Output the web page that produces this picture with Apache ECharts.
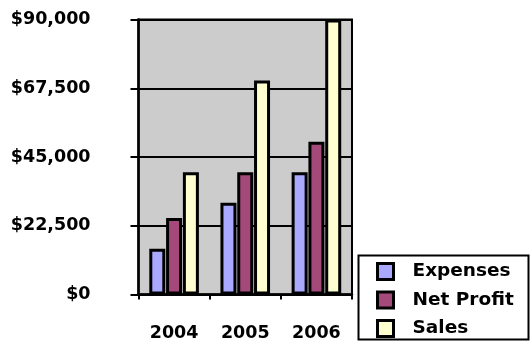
<!DOCTYPE html>
<html>
<head>
<meta charset="utf-8">
<script src="https://cdn.jsdelivr.net/npm/echarts@6/dist/echarts.min.js"></script>
<style>
  html, body { margin: 0; padding: 0; background: #ffffff; }
  #chart { width: 530px; height: 343px; }
</style>
</head>
<body>
<div id="chart"></div>
<script>
// Yearly figures
const years = ['2004', '2005', '2006'];
const expenses = [15000, 30000, 40000];
const netProfit = [25000, 40000, 50000];
const sales = [40000, 70000, 90000];
const seriesNames = ['Expenses', 'Net Profit', 'Sales'];
const yTickLabels = ['$0', '$22,500', '$45,000', '$67,500', '$90,000'];
const yStep = 22500;

const FONT = '"DejaVu Sans", sans-serif';
const textStyle = { fontFamily: FONT, fontWeight: 'bold', fontSize: 17.5, color: '#000' };

const colors = ['#a9a9ff', '#a5487a', '#ffffcf'];

const chart = echarts.init(document.getElementById('chart'), null, { renderer: 'canvas' });

function barSeries(name, data, color) {
  return {
    name: name,
    type: 'bar',
    data: data,
    barWidth: 16,
    barGap: '5%',
    itemStyle: { color: color, borderColor: '#000', borderWidth: 3 },
    emphasis: { disabled: true }
  };
}

chart.setOption({
  animation: false,
  backgroundColor: '#ffffff',
  grid: {
    left: 138.5, right: 178, top: 19.5, bottom: 48.5,
    show: true, backgroundColor: '#cccccc', borderColor: '#000', borderWidth: 2
  },
  xAxis: {
    type: 'category',
    data: years,
    axisLine: { show: true, lineStyle: { color: '#000', width: 2.5 } },
    axisTick: { show: true, length: 5, lineStyle: { color: '#000', width: 2 } },
    axisLabel: Object.assign({ margin: 30 }, textStyle)
  },
  yAxis: {
    type: 'value',
    min: 0, max: 90000, interval: yStep,
    axisLine: { show: true, lineStyle: { color: '#000', width: 2.5 } },
    axisTick: { show: true, length: 8, lineStyle: { color: '#000', width: 2 } },
    splitLine: { show: true, lineStyle: { color: '#000', width: 2 } },
    axisLabel: Object.assign({
      margin: 48,
      formatter: v => yTickLabels[Math.round(v / yStep)]
    }, textStyle)
  },
  legend: {
    data: seriesNames,
    orient: 'vertical',
    left: 376, top: 262, height: 120,
    padding: 0,
    itemWidth: 16, itemHeight: 16, itemGap: 9.5,
    icon: 'rect',
    itemStyle: { borderColor: '#000', borderWidth: 3 },
    textStyle: Object.assign({}, textStyle, { fontSize: 18.5, padding: [0, 0, 0, 14] }),
    selectedMode: false,
    z: 10
  },
  graphic: [{
    type: 'rect',
    shape: { x: 358.5, y: 255.5, width: 170, height: 84 },
    style: { fill: '#ffffff', stroke: '#000', lineWidth: 2 },
    z: 1
  }],
  series: [
    barSeries(seriesNames[0], expenses, colors[0]),
    barSeries(seriesNames[1], netProfit, colors[1]),
    barSeries(seriesNames[2], sales, colors[2])
  ]
});
</script>
</body>
</html>
